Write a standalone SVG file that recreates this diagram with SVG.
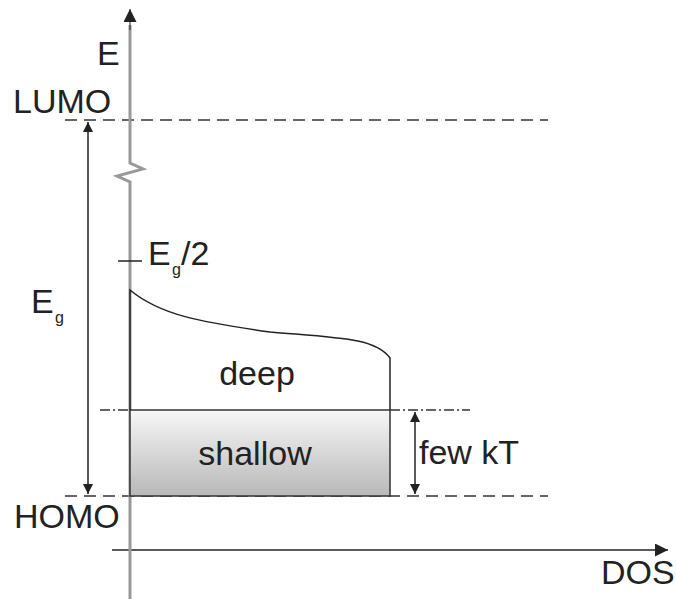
<svg xmlns="http://www.w3.org/2000/svg" width="676" height="599" viewBox="0 0 676 599">
<style>
text{font-family:"Liberation Sans",Arial,sans-serif;fill:#222}
.lbl{font-size:34px}
.sub{font-size:16px}
.dash{stroke:#333;stroke-width:1.6;stroke-dasharray:12 7;fill:none}
.dd{stroke:#333;stroke-width:1.3;stroke-dasharray:10 3 2 3;fill:none}
.ln{stroke:#222;stroke-width:1.5;fill:none}
</style>
<defs>
<marker id="ah" viewBox="0 0 10 10" refX="10" refY="5" markerWidth="10" markerHeight="10" markerUnits="userSpaceOnUse" orient="auto-start-reverse"><path d="M0,0 L10,5 L0,10 Z" fill="#222"/></marker>
<marker id="ahs" viewBox="0 0 10 10" refX="10" refY="5" markerWidth="16" markerHeight="13" markerUnits="userSpaceOnUse" orient="auto-start-reverse"><path d="M0,0 L10,5 L0,10 Z" fill="#222"/></marker>
<linearGradient id="g" x1="0" y1="0" x2="0" y2="1"><stop offset="0" stop-color="#f7f7f7"/><stop offset="1" stop-color="#b8b8b8"/></linearGradient>
</defs>
<g id="connectors">
<line class="dash" x1="65" y1="120" x2="548" y2="120"/>
<line class="dash" x1="65" y1="496" x2="548" y2="496"/>
<line class="dd" x1="100" y1="410" x2="130" y2="410"/>
<line class="dd" x1="390" y1="410" x2="470" y2="410"/>
<line class="ln" x1="112" y1="550" x2="668" y2="550" marker-end="url(#ahs)"/>
<path d="M130,599 V182 L117,176 L143,169 L130,163 V25" stroke="#999" stroke-width="3" fill="none"/>
<path d="M130,30 L130,9" stroke="#222" stroke-width="1" marker-end="url(#ahs)"/>
<line class="ln" x1="88" y1="122" x2="88" y2="494" marker-start="url(#ah)" marker-end="url(#ah)" stroke-width="1.6"/>
<line class="ln" x1="415" y1="412" x2="415" y2="494" marker-start="url(#ah)" marker-end="url(#ah)" stroke-width="1.6"/>
<line class="ln" x1="118" y1="261" x2="142" y2="261"/>
</g>
<g id="shallow">
<rect x="130" y="410" width="260" height="86" fill="url(#g)" stroke="#333" stroke-width="1.5"/>
<text class="lbl" x="255" y="465" text-anchor="middle">shallow</text>
</g>
<g id="deep">
<path d="M130,410 V290 C160,315 200,322 270,332 C340,338 375,338 390,358 V410" fill="none" stroke="#222" stroke-width="1.5"/>
<text class="lbl" x="257" y="385" text-anchor="middle">deep</text>
</g>
<g id="labels">
<text class="lbl" x="97" y="65">E</text>
<text class="lbl" x="13" y="113">LUMO</text>
<text class="lbl" x="14" y="528">HOMO</text>
<text class="lbl" x="31" y="313">E</text><text class="sub" x="55" y="323">g</text>
<text class="lbl" x="148" y="265">E</text><text class="sub" x="172" y="275">g</text><text class="lbl" x="181" y="265">/2</text>
<text class="lbl" x="419" y="464">few kT</text>
<text class="lbl" x="601" y="584">DOS</text>
</g>
</svg>
